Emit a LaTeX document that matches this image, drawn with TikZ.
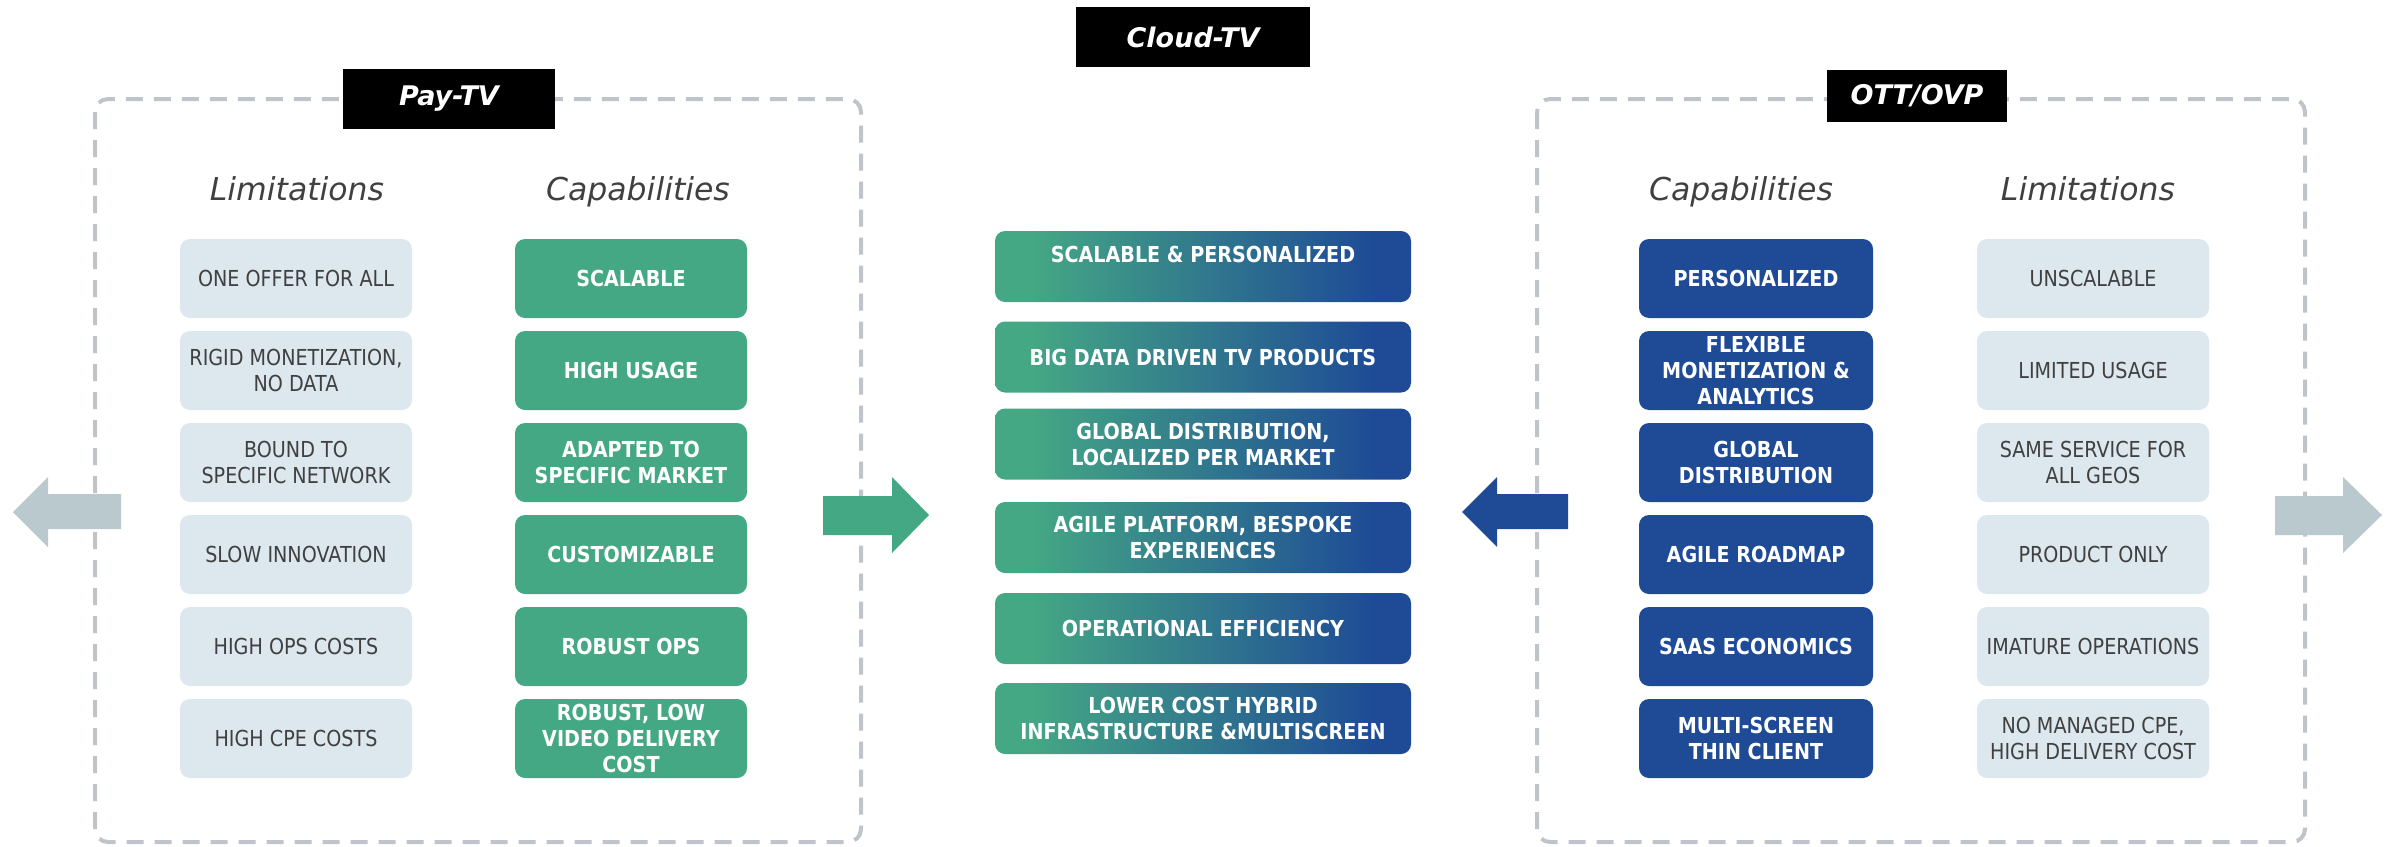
\documentclass[tikz,border=0pt]{standalone}
\usepackage{fontspec}
\setmainfont{DejaVu Sans}[FakeStretch=0.87]
\newfontfamily\hdrfont{DejaVu Sans}

\definecolor{capgreen}{HTML}{45A884}
\definecolor{ottblue}{HTML}{1E4A96}
\definecolor{limfill}{HTML}{DCE7EE}
\definecolor{arrowgray}{HTML}{B9C9CE}
\definecolor{dashgray}{HTML}{BFC4CB}
\definecolor{txtgray}{HTML}{404040}

% green-to-blue band used by the Cloud-TV boxes
\pgfdeclarehorizontalshading{cloudgrad}{100bp}{color(0bp)=(capgreen); color(29bp)=(capgreen); color(71bp)=(ottblue); color(100bp)=(ottblue)}

\tikzset{
  boxfont/.style={font=\fontsize{22}{26}\selectfont},
  tile/.style={boxfont, rounded corners=10, inner sep=0, align=center,
    minimum width=232, minimum height=79},
  lim/.style={tile, fill=limfill, text=txtgray},
  paycap/.style={tile, fill=capgreen, text=white, font=\fontsize{22}{26}\selectfont\bfseries},
  ottcap/.style={tile, fill=ottblue, text=white, minimum width=234, font=\fontsize{22}{26}\selectfont\bfseries},
  ctr/.style={rounded corners=10, inner sep=0, align=center, text=white,
    minimum width=416, minimum height=71, shade, shading=cloudgrad,
    font=\fontsize{22}{26}\selectfont\bfseries},
  hdr/.style={anchor=base, text=txtgray, font=\hdrfont\itshape\fontsize{31.5}{36}\selectfont},
  ttl/.style={fill=black, text=white, inner sep=0, font=\hdrfont\bfseries\itshape\fontsize{27}{30}\selectfont},
  frame/.style={draw=dashgray, line width=4, dash pattern=on 17 off 11, rounded corners=13},
}

\begin{document}
\begin{tikzpicture}[x=1pt, y=-1pt]
\useasboundingbox (0,0) rectangle (2392,846);

% dashed group frames
\draw[frame] (95,99) rectangle (861,842);
\draw[frame] (1537,99) rectangle (2305,842);

% group titles
\node[ttl, minimum width=212, minimum height=60] (pay) at (449,99) {Pay-TV};
\node[ttl, minimum width=234, minimum height=60] (cloud) at (1193,37) {Cloud-TV};
\node[ttl, minimum width=180, minimum height=52] (ott) at (1917,96) {OTT/OVP};

% column headers
\node[hdr] (payLimH) at (297,200) {Limitations};
\node[hdr] (payCapH) at (638,200) {Capabilities};
\node[hdr] (ottCapH) at (1741,200) {Capabilities};
\node[hdr] (ottLimH) at (2088,200) {Limitations};

% Pay-TV limitations
\node[lim] (pl1) at (296,278.5) {ONE OFFER FOR ALL};
\node[lim] (pl2) at (296,370.5) {RIGID MONETIZATION,\\NO DATA};
\node[lim] (pl3) at (296,462.5) {BOUND TO\\SPECIFIC NETWORK};
\node[lim] (pl4) at (296,554.5) {SLOW INNOVATION};
\node[lim] (pl5) at (296,646.5) {HIGH OPS COSTS};
\node[lim] (pl6) at (296,738.5) {HIGH CPE COSTS};

% Pay-TV capabilities
\node[paycap] (pc1) at (631,278.5) {SCALABLE};
\node[paycap] (pc2) at (631,370.5) {HIGH USAGE};
\node[paycap] (pc3) at (631,462.5) {ADAPTED TO\\SPECIFIC MARKET};
\node[paycap] (pc4) at (631,554.5) {CUSTOMIZABLE};
\node[paycap] (pc5) at (631,646.5) {ROBUST OPS};
\node[paycap] (pc6) at (631,738.5) {ROBUST, LOW\\VIDEO DELIVERY\\COST};

% Cloud-TV column
\node[ctr] (c1) at (1203,266.5) {\raisebox{12.5pt}[\height][\depth]{SCALABLE \& PERSONALIZED}};
\node[ctr] (c2) at (1203,357) {BIG DATA DRIVEN TV PRODUCTS};
\node[ctr] (c3) at (1203,444) {GLOBAL DISTRIBUTION,\\LOCALIZED PER MARKET};
\node[ctr] (c4) at (1203,537.5) {AGILE PLATFORM, BESPOKE\\EXPERIENCES};
\node[ctr] (c5) at (1203,628.5) {OPERATIONAL EFFICIENCY};
\node[ctr] (c6) at (1203,718.5) {LOWER COST HYBRID\\INFRASTRUCTURE \&MULTISCREEN};

% OTT/OVP capabilities
\node[ottcap] (oc1) at (1756,278.5) {PERSONALIZED};
\node[ottcap] (oc2) at (1756,370.5) {FLEXIBLE\\MONETIZATION \&\\ANALYTICS};
\node[ottcap] (oc3) at (1756,462.5) {GLOBAL\\DISTRIBUTION};
\node[ottcap] (oc4) at (1756,554.5) {AGILE ROADMAP};
\node[ottcap] (oc5) at (1756,646.5) {SAAS ECONOMICS};
\node[ottcap] (oc6) at (1756,738.5) {MULTI-SCREEN\\THIN CLIENT};

% OTT/OVP limitations
\node[lim] (ol1) at (2093,278.5) {UNSCALABLE};
\node[lim] (ol2) at (2093,370.5) {LIMITED USAGE};
\node[lim] (ol3) at (2093,462.5) {SAME SERVICE FOR\\ALL GEOS};
\node[lim] (ol4) at (2093,554.5) {PRODUCT ONLY};
\node[lim] (ol5) at (2093,646.5) {IMATURE OPERATIONS};
\node[lim] (ol6) at (2093,738.5) {NO MANAGED CPE,\\HIGH DELIVERY COST};

% block arrows
\fill[arrowgray] (121,494) -- (48,494) -- (48,477) -- (13,512) -- (48,547) -- (48,529) -- (121,529) -- cycle;
\fill[capgreen] (823,496) -- (892,496) -- (892,477) -- (929,515) -- (892,553) -- (892,535) -- (823,535) -- cycle;
\fill[ottblue] (1568,494) -- (1497,494) -- (1497,477) -- (1462,512) -- (1497,547) -- (1497,529) -- (1568,529) -- cycle;
\fill[arrowgray] (2275,496) -- (2343,496) -- (2343,477) -- (2382,515) -- (2343,553) -- (2343,535) -- (2275,535) -- cycle;
\end{tikzpicture}
\end{document}
